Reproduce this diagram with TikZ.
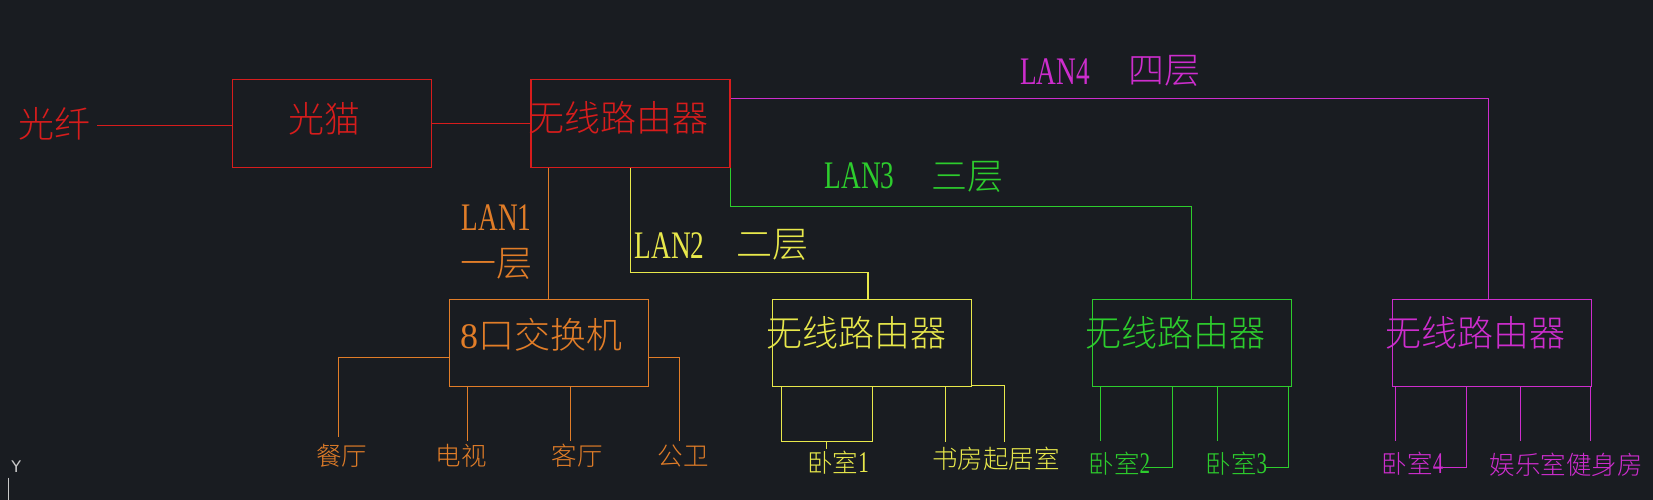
\documentclass[tikz,border=0pt]{standalone}
\usepackage{fontspec}
\newfontfamily\cjk{Noto Sans CJK SC}[UprightFont=* Light]
\newfontfamily\lanfont{Liberation Serif}[FakeStretch=0.7]
\newfontfamily\digfont{Liberation Serif}
\newfontfamily\ucsfont{DejaVu Sans}
\usetikzlibrary{calc}
\definecolor{bg}{RGB}{25,28,33}
\definecolor{cred}{RGB}{215,28,28}
\definecolor{corange}{RGB}{225,125,40}
\definecolor{cyellow}{RGB}{232,232,75}
\definecolor{cgreen}{RGB}{45,205,45}
\definecolor{cmag}{RGB}{205,45,205}
\definecolor{cucs}{RGB}{200,200,200}
\begin{document}
\begin{tikzpicture}[x=1pt,y=-1pt,
  box/.style={draw, minimum width=199pt, minimum height=87.5pt, inner sep=0pt, line width=1.1pt},
  big/.style={font=\cjk\fontsize{36}{38}\selectfont, inner sep=0pt},
  small/.style={font=\cjk\fontsize{25.5}{27}\selectfont, inner sep=0pt},
  lan/.style={font=\lanfont\fontsize{39}{40}\selectfont, inner sep=0pt},
  wire/.style={line width=1.1pt}]
\fill[bg] (0,0) rectangle (1653,500);
\useasboundingbox (0,0) rectangle (1653,500);

% top row
\node[big, text=cred] (fiber) at (54,124) {光纤};
\node[box, draw=cred] (modem) at (332,123.5) {};
\node[big, text=cred] (modemT) at (324,119) {光猫};
\node[box, draw=cred] (r0) at (630.5,123.5) {};
\node[big, text=cred, anchor=west] (r0T) at (528.5,118) {无线路由器};

% second row boxes
\node[box, draw=corange] (sw) at (548.65,342.85) {};
\node[big, text=corange, anchor=west] (swT) at (460,335) {{\digfont 8}口交换机};
\node[box, draw=cyellow] (yr) at (872.2,342.85) {};
\node[big, text=cyellow, anchor=west] (yrT) at (766,333) {无线路由器};
\node[box, draw=cgreen] (gr) at (1191.55,342.85) {};
\node[big, text=cgreen, anchor=west] (grT) at (1085,333) {无线路由器};
\node[box, draw=cmag] (mr) at (1491.8,342.85) {};
\node[big, text=cmag, anchor=west] (mrT) at (1385,333) {无线路由器};

% LAN labels
\node[lan, text=cmag] (lan4) at (1055,71.5) {LAN4};
\node[big, text=cmag] (lan4f) at (1164,71) {四层};
\node[lan, text=cgreen] (lan3) at (859.5,176) {LAN3};
\node[big, text=cgreen] (lan3f) at (967.6,177) {三层};
\node[lan, text=cyellow] (lan2) at (669.5,245.5) {LAN2};
\node[big, text=cyellow] (lan2f) at (772.5,245) {二层};
\node[lan, text=corange] (lan1) at (496.7,218) {LAN1};
\node[big, text=corange] (lan1f) at (496,264) {一层};

% leaf labels
\node[small, text=corange] (dining) at (341.7,456) {餐厅};
\node[small, text=corange] (tv) at (461,456) {电视};
\node[small, text=corange] (living) at (577,456) {客厅};
\node[small, text=corange] (wc) at (683,456) {公卫};
\node[small, text=cyellow] (bed1) at (838,463) {卧室{\lanfont\fontsize{30}{30}\selectfont 1}};
\node[small, text=cyellow] (study) at (996,459) {书房起居室};
\node[small, text=cgreen] (bed2) at (1119.3,464) {卧室{\lanfont\fontsize{30}{30}\selectfont 2}};
\node[small, text=cgreen] (bed3) at (1236.4,464) {卧室{\lanfont\fontsize{30}{30}\selectfont 3}};
\node[small, text=cmag] (bed4) at (1412.5,464) {卧室{\lanfont\fontsize{30}{30}\selectfont 4}};
\node[small, text=cmag] (gym) at (1566,465) {娱乐室健身房};

% UCS icon
\node[font=\ucsfont\fontsize{16}{16}\selectfont, text=cucs, inner sep=0pt] (ucsY) at (16.3,466.5) {Y};
\draw[cucs, line width=1.3pt] (8.3,477.7) -- (8.3,500);

% top wires
\draw[wire, cred] ([xshift=7pt,yshift=-1.7pt]fiber.east) -- ([yshift=-1.7pt]fiber.east -| modem.west);
\draw[wire, cred] (modem.east) -- (r0.west);
\draw[wire, cmag] ([yshift=-19.3pt]r0.north east) -| ([xshift=-3.2pt]mr.north);
\draw[wire, cgreen] (r0.south east) -- ++(0,38.5) -| (gr.north);
\draw[wire, cyellow] (r0.south) -- ++(0,104.8) -| ([xshift=-4.2pt]yr.north);
\draw[wire, corange] (r0.south -| sw.north) -- (sw.north);

% orange branches
\draw[wire, corange] ([yshift=-14.5pt]sw.west) -- ++(-109.7,0) -- ++(0,79.4);
\draw[wire, corange] ([xshift=18.7pt]sw.south west) -- ++(0,53.4);
\draw[wire, corange] ([xshift=121.7pt]sw.south west) -- ++(0,53.4);
\draw[wire, corange] ([yshift=-14.5pt]sw.east) -- ++(31,0) -- ++(0,83.4);

% yellow branches
\draw[wire, cyellow] ([xshift=9pt]yr.south west) -- ++(0,54.4) -- ++(91.6,0) -- ++(0,-54.4);
\draw[wire, cyellow] ([xshift=54pt]yr.south west) ++(0,54.4) -- ++(0,7.3);
\draw[wire, cyellow] ([xshift=173pt]yr.south west) -- ++(0,55);
\draw[wire, cyellow] ([yshift=1.3pt]yr.south east) -- ++(32.6,0) -- ++(0,56.4);

% green branches
\draw[wire, cgreen] ([xshift=8.6pt]gr.south west) -- ++(0,53.4);
\draw[wire, cgreen] ([xshift=80.7pt]gr.south west) -- ++(0,80.7) -- ++(-26.8,0);
\draw[wire, cgreen] ([xshift=126.4pt]gr.south west) -- ++(0,53.4);
\draw[wire, cgreen] ([xshift=197.4pt]gr.south west) -- ++(0,80.7) -- ++(-23.7,0);

% magenta branches
\draw[wire, cmag] ([xshift=3.6pt]mr.south west) -- ++(0,53.4);
\draw[wire, cmag] ([xshift=74.3pt]mr.south west) -- ++(0,80.7) -- ++(-22.7,0);
\draw[wire, cmag] ([xshift=129pt]mr.south west) -- ++(0,53.4);
\draw[wire, cmag] ([xshift=198.4pt]mr.south west) -- ++(0,53.4);
\end{tikzpicture}
\end{document}
